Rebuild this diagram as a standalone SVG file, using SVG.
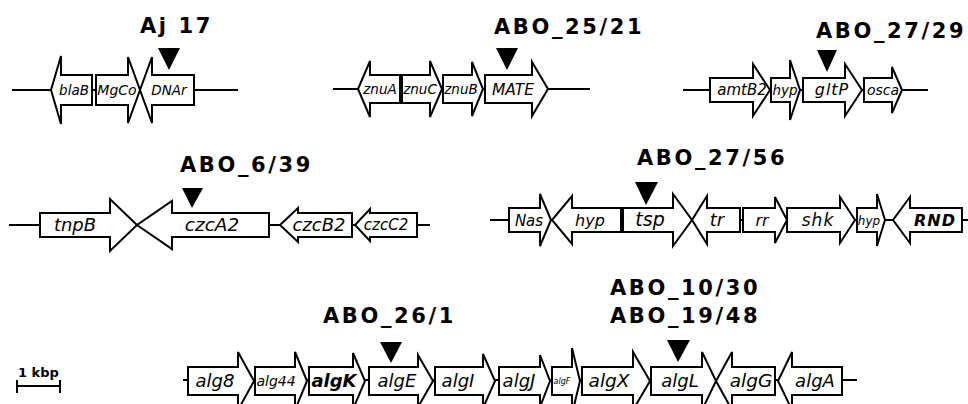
<svg xmlns="http://www.w3.org/2000/svg" width="968" height="404" viewBox="0 0 968 404">
<style>
.g{fill:#fff;stroke:#000;stroke-width:2;stroke-linejoin:miter}
.bb{stroke:#000;stroke-width:2;fill:none}
.t{font-family:"DejaVu Sans",Verdana,sans-serif;font-style:italic;text-anchor:middle;fill:#000}
.lb{font-family:"DejaVu Sans",Verdana,sans-serif;font-weight:bold;font-size:21px;letter-spacing:2.6px;fill:#000}
.m{fill:#000}
</style>
<rect width="968" height="404" fill="#fff"/>
<g id="connectors">
<line class="bb" x1="12" y1="90" x2="238" y2="90"/>
<line class="bb" x1="333" y1="89" x2="590" y2="89"/>
<line class="bb" x1="683" y1="90" x2="928" y2="90"/>
<line class="bb" x1="9" y1="225" x2="430" y2="225"/>
<line class="bb" x1="490" y1="220" x2="968" y2="220"/>
<line class="bb" x1="183" y1="380" x2="857" y2="380"/>
</g>
<!-- Row 1 cluster 1 -->
<g id="blaB"><polygon class="g" points="92,75 61,75 61,56 51,90 61,124 61,105 92,105"/><text class="t" x="74" y="95" font-size="13.5">blaB</text></g>
<g id="MgCo"><polygon class="g" points="96,75 128,75 128,57 140,90 128,123 128,105 96,105"/><text class="t" x="117" y="95" font-size="14">MgCo</text></g>
<g id="DNAr"><polygon class="g" points="194,75 152,75 152,57 140,90 152,123 152,105 194,105"/><text class="t" x="169" y="95" font-size="13.5">DNAr</text></g>
<g id="mark-aj17"><polygon class="m" points="158,48 180,48 169,70"/><text class="lb" x="140" y="33">Aj 17</text></g>
<!-- Row 1 cluster 2 -->
<g id="znuA"><polygon class="g" points="400,75 370,75 370,61 358,89 370,117 370,103 400,103"/><text class="t" x="380" y="94" font-size="13.5">znuA</text></g>
<g id="znuC"><polygon class="g" points="402,75 430,75 430,61 442,89 430,117 430,103 402,103"/><text class="t" x="420" y="94" font-size="13.5">znuC</text></g>
<g id="znuB"><polygon class="g" points="443,75 472,75 472,62 483,89 472,116 472,103 443,103"/><text class="t" x="461" y="94" font-size="13.5">znuB</text></g>
<g id="MATE"><polygon class="g" points="485,75 532,75 532,62 548,89 532,116 532,103 485,103"/><text class="t" x="513" y="95" font-size="15.5">MATE</text></g>
<g id="mark-25-21"><polygon class="m" points="496,48 518,48 507,70"/><text class="lb" x="494" y="34">ABO_25/21</text></g>
<!-- Row 1 cluster 3 -->
<g id="amtB2"><polygon class="g" points="710,78 753,78 753,64 770,90 753,116 753,102 710,102"/><text class="t" x="742" y="95" font-size="15">amtB2</text></g>
<g id="hyp1"><polygon class="g" points="771,78 790,78 790,60 800,90 790,120 790,102 771,102"/><text class="t" x="785" y="95" font-size="13.5">hyp</text></g>
<g id="gltP"><polygon class="g" points="803,78 845,78 845,64 862,90 845,116 845,102 803,102"/><text class="t" x="832" y="95" font-size="16" letter-spacing="1">gltP</text></g>
<g id="osca"><polygon class="g" points="864,78 892,78 892,67 902,90 892,113 892,102 864,102"/><text class="t" x="883" y="95" font-size="14">osca</text></g>
<g id="mark-27-29"><polygon class="m" points="817,50 837,50 827,72"/><text class="lb" x="816" y="38">ABO_27/29</text></g>
<!-- Row 2 cluster 1 -->
<g id="tnpB"><polygon class="g" points="40,213 110,213 110,199 137,225 110,251 110,237 40,237"/><text class="t" x="75" y="231" font-size="18">tnpB</text></g>
<g id="czcA2"><polygon class="g" points="269,213 172,213 172,201 137,225 172,249 172,237 269,237"/><text class="t" x="212" y="231" font-size="18.5">czcA2</text></g>
<g id="czcB2"><polygon class="g" points="352,213 298,213 298,208 280,225 298,242 298,237 352,237"/><text class="t" x="319" y="231" font-size="18">czcB2</text></g>
<g id="czcC2"><polygon class="g" points="417,213 370,213 370,209 355,225 370,241 370,237 417,237"/><text class="t" x="386" y="230" font-size="15">czcC2</text></g>
<g id="mark-6-39"><polygon class="m" points="182,188 203,188 192,208"/><text class="lb" x="180" y="172">ABO_6/39</text></g>
<!-- Row 2 cluster 2 -->
<g id="Nas"><polygon class="g" points="509,208 540,208 540,194 551,220 540,246 540,232 509,232"/><text class="t" x="529" y="226" font-size="15">Nas</text></g>
<g id="hyp2"><polygon class="g" points="621,208 572,208 572,196 552,220 572,244 572,232 621,232"/><text class="t" x="590" y="226" font-size="16">hyp</text></g>
<g id="tsp"><polygon class="g" points="623,208 673,208 673,194 692,220 673,246 673,232 623,232"/><text class="t" x="650" y="226" font-size="19">tsp</text></g>
<g id="tr"><polygon class="g" points="740,208 707,208 707,196 692,220 707,244 707,232 740,232"/><text class="t" x="717" y="226" font-size="18">tr</text></g>
<g id="rr"><polygon class="g" points="743,208 775,208 775,197 787,220 775,243 775,232 743,232"/><text class="t" x="762" y="226" font-size="16">rr</text></g>
<g id="shk"><polygon class="g" points="787,208 840,208 840,197 855,220 840,243 840,232 787,232"/><text class="t" x="818" y="226" font-size="17" letter-spacing="1">shk</text></g>
<g id="hyp3"><polygon class="g" points="857,208 877,208 877,194 885,220 877,246 877,232 857,232"/><text class="t" x="869" y="225" font-size="12">hyp</text></g>
<g id="RND"><polygon class="g" points="962,208 910,208 910,197 893,220 910,243 910,232 962,232"/><text class="t" x="935" y="226" font-size="16" font-weight="bold" letter-spacing="1">RND</text></g>
<g id="mark-27-56"><polygon class="m" points="635,182 658,182 646,205"/><text class="lb" x="637" y="165">ABO_27/56</text></g>
<!-- Row 3 -->
<g id="alg8"><polygon class="g" points="188,367 238,367 238,352 254,381 238,410 238,395 188,395"/><text class="t" x="215" y="387" font-size="18">alg8</text></g>
<g id="alg44"><polygon class="g" points="255,367 295,367 295,352 307,381 295,410 295,395 255,395"/><text class="t" x="276" y="386" font-size="14">alg44</text></g>
<g id="algK"><polygon class="g" points="309,367 353,367 353,353 365,381 353,409 353,395 309,395"/><text class="t" x="334" y="387" font-size="18" font-weight="bold">algK</text></g>
<g id="algE"><polygon class="g" points="369,367 418,367 418,355 433,381 418,407 418,395 369,395"/><text class="t" x="397" y="387" font-size="18">algE</text></g>
<g id="algI"><polygon class="g" points="435,367 483,367 483,354 495,381 483,408 483,395 435,395"/><text class="t" x="458" y="387" font-size="18">algI</text></g>
<g id="algJ"><polygon class="g" points="499,367 540,367 540,355 550,381 540,407 540,395 499,395"/><text class="t" x="519" y="387" font-size="18">algJ</text></g>
<g id="algF"><polygon class="g" points="552,367 572,367 572,348 580,381 572,414 572,395 552,395"/><text class="t" x="562" y="384" font-size="8">algF</text></g>
<g id="algX"><polygon class="g" points="582,367 633,367 633,352 650,381 633,410 633,395 582,395"/><text class="t" x="609" y="387" font-size="18.5">algX</text></g>
<g id="algL"><polygon class="g" points="651,367 702,367 702,352 716,381 702,410 702,395 651,395"/><text class="t" x="680" y="387" font-size="18">algL</text></g>
<g id="algG"><polygon class="g" points="775,367 732,367 732,352 716,381 732,410 732,395 775,395"/><text class="t" x="751" y="387" font-size="18.5">algG</text></g>
<g id="algA"><polygon class="g" points="842,367 792,367 792,352 778,381 792,410 792,395 842,395"/><text class="t" x="815" y="387" font-size="18">algA</text></g>
<g id="mark-26-1"><polygon class="m" points="380,342 402,342 391,363"/><text class="lb" x="323" y="323">ABO_26/1</text></g>
<g id="mark-10-30"><polygon class="m" points="667,340 690,340 678,362"/><text class="lb" x="610" y="295">ABO_10/30</text><text class="lb" x="610" y="323">ABO_19/48</text></g>
<g id="scale">
<text x="18" y="377" font-family="'DejaVu Sans',Verdana,sans-serif" font-weight="bold" font-size="13">1 kbp</text>
<line class="bb" x1="17" y1="386" x2="60" y2="386"/>
<line class="bb" x1="17" y1="380" x2="17" y2="393"/>
<line class="bb" x1="60" y1="380" x2="60" y2="393"/>
</g>
</svg>
